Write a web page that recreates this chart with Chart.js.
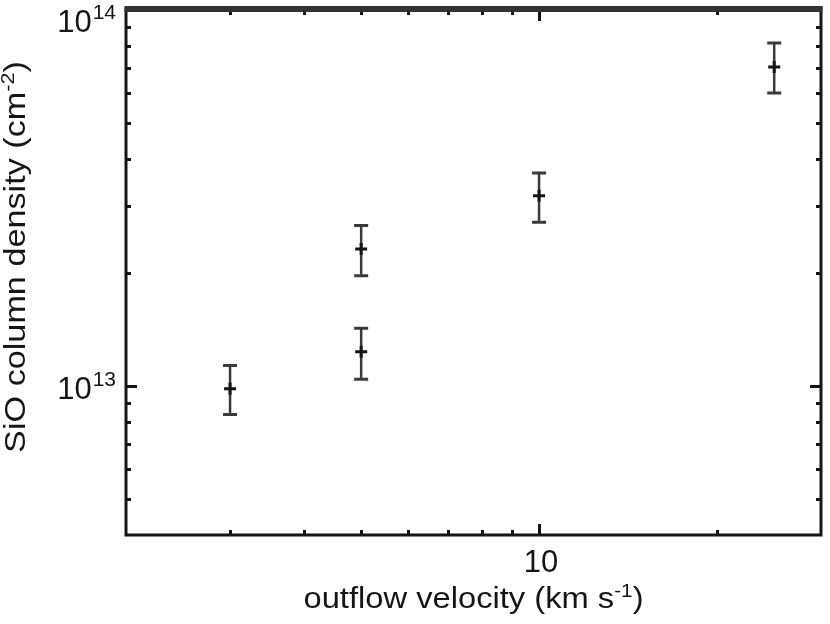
<!DOCTYPE html>
<html lang="en">
<head>
  <meta charset="UTF-8">
  <title>SiO column density vs outflow velocity</title>
  <script src="https://cdn.jsdelivr.net/npm/chart.js"></script>
  <style>
    html, body { margin: 0; padding: 0; background: #fff; }
    #wrap { width: 830px; height: 624px; }
  </style>
</head>
<body>
  <div id="wrap"><canvas id="sioChart" width="830" height="624"></canvas></div>

  <script>
    // values (log-log)
    const velocity = [3, 5, 5, 10, 25];
    const sioDensity = [9.8e12, 2.31e13, 1.23e13, 3.2e13, 7.05e13];
    const sioLow = [8.37e12, 1.96e13, 1.04e13, 2.72e13, 6.01e13];
    const sioHigh = [1.13e13, 2.67e13, 1.42e13, 3.68e13, 8.17e13];

    // axis ticks
    const xTickValues = [10];
    const xTickLabels = ['10'];
    const xMinorTicks = [3, 4, 5, 6, 7, 8, 9, 20];
    const yTickValues = [1e13, 1e14];
    const yTickLabels = ['10', '10'];
    const yTickExponents = ['13', '14'];
    const yMinorTicks = [5e12, 6e12, 7e12, 8e12, 9e12, 2e13, 3e13, 4e13, 5e13, 6e13, 7e13, 8e13, 9e13];

    const xTitle = ['outflow velocity (km s', '-1', ')'];
    const yTitle = ['SiO column density (cm', '-2', ')'];

    const FONT = '"Liberation Sans", Arial, Helvetica, sans-serif';
    const INK = '#151515';

    // draws text with one superscript part, centred on x
    function drawSupText(ctx, parts, x, y, size, stretch) {
      const supSize = Math.round(size * 0.62);
      const widths = parts.map((p, i) => {
        ctx.font = (i === 1 ? supSize : size) + 'px ' + FONT;
        return ctx.measureText(p).width;
      });
      const total = widths.reduce((a, b) => a + b, 0);
      ctx.save();
      ctx.translate(x, y);
      ctx.scale(stretch, 1);
      let cx = -total / 2;
      parts.forEach((p, i) => {
        ctx.font = (i === 1 ? supSize : size) + 'px ' + FONT;
        ctx.fillText(p, cx, i === 1 ? -size * 0.38 : 0);
        cx += widths[i];
      });
      ctx.restore();
    }

    const errorBars = {
      id: 'errorBars',
      beforeDatasetsDraw(chart) {
        const ctx = chart.ctx;
        const xs = chart.scales.x, ys = chart.scales.y;
        ctx.save();
        ctx.strokeStyle = '#3a3a3a';
        for (let i = 0; i < velocity.length; i++) {
          const px = xs.getPixelForValue(velocity[i]);
          const lo = ys.getPixelForValue(sioLow[i]);
          const hi = ys.getPixelForValue(sioHigh[i]);
          ctx.lineWidth = 2.5;
          ctx.beginPath();
          ctx.moveTo(px, lo);
          ctx.lineTo(px, hi);
          ctx.stroke();
          ctx.lineWidth = 3;
          ctx.beginPath();
          ctx.moveTo(px - 7, lo); ctx.lineTo(px + 7, lo);
          ctx.moveTo(px - 7, hi); ctx.lineTo(px + 7, hi);
          ctx.stroke();
        }
        ctx.restore();
      }
    };

    const frameAndTicks = {
      id: 'frameAndTicks',
      afterDraw(chart) {
        const ctx = chart.ctx;
        const a = chart.chartArea;
        const xs = chart.scales.x, ys = chart.scales.y;
        ctx.save();
        ctx.strokeStyle = INK;
        ctx.lineWidth = 3;

        // inward ticks on all four sides
        ctx.beginPath();
        const yTick = (v, len) => {
          const py = Math.round(ys.getPixelForValue(v)) + 0.5;
          ctx.moveTo(a.left, py); ctx.lineTo(a.left + len, py);
          ctx.moveTo(a.right, py); ctx.lineTo(a.right - len, py);
        };
        const xTick = (v, len) => {
          const px = Math.round(xs.getPixelForValue(v)) + 0.5;
          ctx.moveTo(px, a.bottom); ctx.lineTo(px, a.bottom - len);
          ctx.moveTo(px, a.top); ctx.lineTo(px, a.top + len);
        };
        yMinorTicks.forEach(v => yTick(v, 5));
        yTickValues.forEach(v => yTick(v, 11));
        xMinorTicks.forEach(v => xTick(v, 5));
        xTickValues.forEach(v => xTick(v, 11));
        ctx.stroke();

        // box
        ctx.beginPath();
        ctx.moveTo(a.left, a.top - 3);
        ctx.lineTo(a.left, a.bottom);
        ctx.lineTo(a.right, a.bottom);
        ctx.lineTo(a.right, a.top - 3);
        ctx.stroke();
        ctx.strokeStyle = '#333';
        ctx.lineWidth = 6;
        ctx.beginPath();
        ctx.moveTo(a.left - 1.5, a.top - 1);
        ctx.lineTo(a.right + 1.5, a.top - 1);
        ctx.stroke();

        // tick labels
        ctx.fillStyle = INK;
        ctx.textBaseline = 'alphabetic';
        ctx.font = '31px ' + FONT;
        ctx.textAlign = 'center';
        xTickValues.forEach((v, i) => {
          ctx.fillText(xTickLabels[i], xs.getPixelForValue(v) + 2, a.bottom + 37);
        });
        ctx.textAlign = 'right';
        yTickValues.forEach((v, i) => {
          const py = ys.getPixelForValue(v);
          const base = Math.max(py + 13, a.top + 22);
          ctx.font = '21px ' + FONT;
          const supW = ctx.measureText(yTickExponents[i]).width;
          ctx.fillText(yTickExponents[i], a.left - 10, base - 13);
          ctx.font = '31px ' + FONT;
          ctx.fillText(yTickLabels[i], a.left - 11 - supW, base);
        });

        // axis titles
        ctx.textAlign = 'left';
        drawSupText(ctx, xTitle, (a.left + a.right) / 2, a.bottom + 73, 30, 1.09);
        ctx.save();
        ctx.translate(25, 257);
        ctx.rotate(-Math.PI / 2);
        drawSupText(ctx, yTitle, 0, 0, 30, 1.14);
        ctx.restore();

        ctx.restore();
      }
    };

    const ctx = document.getElementById('sioChart').getContext('2d');
    new Chart(ctx, {
      type: 'scatter',
      data: {
        datasets: [{
          label: 'SiO',
          data: velocity.map((v, i) => ({ x: v, y: sioDensity[i] })),
          pointStyle: 'cross',
          pointRadius: 6,
          pointHoverRadius: 6,
          borderWidth: 3,
          borderColor: INK,
          backgroundColor: INK
        }]
      },
      options: {
        responsive: false,
        animation: false,
        layout: { padding: { left: 126, top: 10, right: 3, bottom: 89 } },
        scales: {
          x: { type: 'logarithmic', min: 2, max: 30, display: false },
          y: { type: 'logarithmic', min: 4e12, max: 1e14, display: false }
        },
        plugins: {
          legend: { display: false },
          tooltip: { enabled: false }
        }
      },
      plugins: [errorBars, frameAndTicks]
    });
  </script>
</body>
</html>
